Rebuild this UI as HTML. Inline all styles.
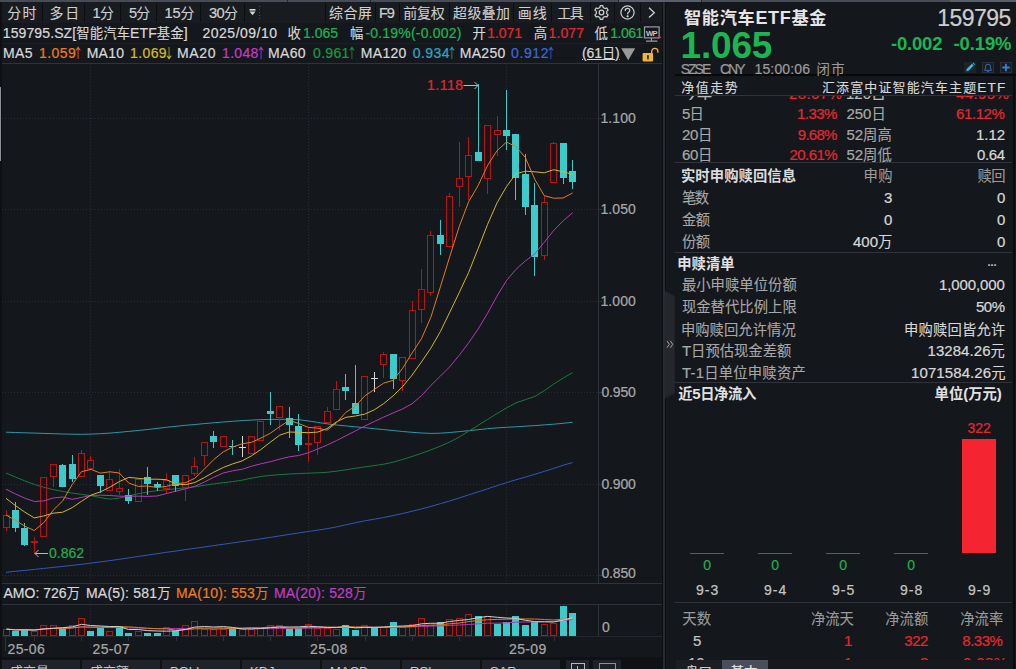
<!DOCTYPE html>
<html lang="zh-CN"><head><meta charset="utf-8"><title>159795.SZ 智能汽车ETF基金</title>
<style>
html,body{margin:0;padding:0;background:#14171c;}
body{width:1016px;height:669px;overflow:hidden;position:relative;font-family:"Liberation Sans","Noto Sans CJK SC",sans-serif;font-size:14px;color:#d8d8d8;}
#app{position:absolute;left:0;top:0;width:1016px;height:669px;overflow:hidden;background:#14171c;}
.chart{position:absolute;left:0;top:0;}
.t{position:absolute;white-space:nowrap;line-height:1;}
.r{text-align:right;}
.b{font-weight:bold;}
.red{color:#e5282f;}
.grn{color:#1cb553;}
.gry{color:#9b9b9b;}
.box{position:absolute;}
.hl{position:absolute;height:1px;background:#30343a;}
.tb{position:absolute;top:3px;height:20px;background:#1c1f25;}
.tb span{position:absolute;top:4px;line-height:13px;font-size:13px;color:#cfcfcf;white-space:nowrap;}
.tab{position:absolute;top:660px;height:9px;background:#1f2228;overflow:hidden;}
.tab span{position:absolute;top:5px;left:8px;font-size:13px;line-height:13px;color:#c8c8c8;white-space:nowrap;}
.sep{top:3px;width:1px;height:19px;background:#0c0e11;}
.c{font-size:.955em;}
.a{font-family:"Noto Sans CJK SC",sans-serif;font-size:.98em;display:inline-block;transform:scaleX(.72);margin:0 -.335em 0 -.36em;-webkit-text-stroke:0;}
.t{-webkit-text-stroke:.22px currentColor;}
.c{-webkit-text-stroke:.1px currentColor;}
.b,.b .c{-webkit-text-stroke:0;}

</style></head><body>
<div id="app">
<!-- top strip -->
<div class="box" style="left:0;top:0;width:1016px;height:2px;background:#484c57;"></div>
<div class="box" style="left:619px;top:0;width:82px;height:2px;background:#5b5f6b;"></div>
<div class="box" style="left:618px;top:0;width:1px;height:2px;background:#23262c;"></div>
<div class="box" style="left:287px;top:0;width:1px;height:2px;background:#23262c;"></div>
<div class="box" style="left:370px;top:0;width:1px;height:2px;background:#23262c;"></div>
<div class="box" style="left:701px;top:0;width:1px;height:2px;background:#23262c;"></div>
<div class="box" style="left:950px;top:0;width:66px;height:2px;background:#5a5f6c;"></div>
<!-- left edge -->
<div class="box" style="left:0;top:2px;width:2px;height:667px;background:#0e1013;"></div>
<div class="box" style="left:0;top:87px;width:1px;height:74px;background:#8e8e98;"></div>
<!-- toolbar -->
<div class="box" style="left:2px;top:2px;width:661px;height:21px;background:#181b20;"></div>
<div class="box sep" style="left:42px;"></div><div class="box sep" style="left:84px;"></div><div class="box sep" style="left:120px;"></div>
<div class="box sep" style="left:156px;"></div><div class="box sep" style="left:200px;"></div><div class="box sep" style="left:244px;"></div>
<div class="box sep" style="left:325px;"></div><div class="box sep" style="left:375px;"></div><div class="box sep" style="left:399px;"></div>
<div class="box sep" style="left:449px;"></div><div class="box sep" style="left:513px;"></div><div class="box sep" style="left:551px;"></div>
<div class="box sep" style="left:590px;"></div><div class="box sep" style="left:614px;"></div><div class="box sep" style="left:640px;"></div>
<svg class="box" style="left:245px;top:3px" width="20" height="20" viewBox="0 0 20 20">
 <rect x="4.5" y="6" width="6" height="1.6" fill="#d6d6d6"/><path d="M4.5 8.6h6l-3 3.6z" fill="#d6d6d6"/>
 <g fill="#4a4e56"><rect x="14" y="3" width="1" height="1"/><rect x="14" y="6" width="1" height="1"/><rect x="14" y="9" width="1" height="1"/><rect x="14" y="12" width="1" height="1"/><rect x="14" y="15" width="1" height="1"/></g>
</svg>
<!-- gear -->
<svg class="box" style="left:593px;top:4px" width="17" height="17" viewBox="0 0 17 17" fill="none" stroke="#cfcfcf" stroke-width="1.25" stroke-linejoin="round">
 <circle cx="8.5" cy="8.5" r="2.3"/>
 <path d="M6.86 3.46L7.26 1.61L9.74 1.61L10.14 3.46L12.05 4.56L13.85 3.98L15.09 6.13L13.68 7.40L13.68 9.60L15.09 10.87L13.85 13.02L12.05 12.44L10.14 13.54L9.74 15.39L7.26 15.39L6.86 13.54L4.95 12.44L3.15 13.02L1.91 10.87L3.32 9.60L3.32 7.40L1.91 6.13L3.15 3.98L4.95 4.56z"/>
</svg>
<!-- help -->
<svg class="box" style="left:619px;top:3.6px" width="17" height="17" viewBox="0 0 17 17" fill="none" stroke="#cfcfcf" stroke-width="1.2">
 <circle cx="8.5" cy="8.5" r="6.6"/>
 <path d="M6.2 6.6c0-1.4 1-2.2 2.3-2.2s2.3.8 2.3 2c0 1.5-2.2 1.7-2.2 3.5" stroke-linecap="round"/>
 <circle cx="8.6" cy="12.3" r=".5" fill="#cfcfcf"/>
</svg>
<!-- chevron -->
<svg class="box" style="left:645px;top:5px" width="14" height="16" viewBox="0 0 14 16" fill="none" stroke="#cfcfcf" stroke-width="1.3"><path d="M4 2.8l5.3 4.9L4 12.6"/></svg>
<!-- WP monitor icon -->
<svg class="box" style="left:643px;top:25px" width="20" height="18" viewBox="0 0 20 18">
 <rect x="1.5" y="1.9" width="14.6" height="11" fill="none" stroke="#9c9ea4" stroke-width="1.2"/>
 <path d="M3 16.1h11.4M8.5 13v3" stroke="#9c9ea4" stroke-width="1.1" fill="none"/>
 <text x="2.9" y="11" font-size="7.6" font-weight="bold" fill="#c4c4c4" font-family="Liberation Sans, sans-serif" letter-spacing="-0.6">WP</text>
 <g fill="#e5282f"><rect x="9.8" y="11.7" width="1.3" height="1.3"/><rect x="13" y="11.7" width="1.3" height="1.3"/><rect x="16.3" y="11.5" width="1.8" height="1.7"/></g>
</svg>
<!-- triangle + lock -->
<svg class="box" style="left:620px;top:45px" width="40" height="18" viewBox="0 0 40 18">
 <path d="M1.2 3.2h14L8.2 15.2z" fill="#9a9a9a"/>
 <rect x="22.6" y="7.9" width="10.5" height="8.6" rx="1" fill="#efb63a"/>
 <path d="M27 10.3h1.9l-.4 4.2h-1.1z" fill="#14171c"/>
 <path d="M31.7 8.2V6.4a3.1 3.1 0 0 1 6.2 0v1.3" fill="none" stroke="#efb63a" stroke-width="1.3"/>
</svg>
<!-- info row divider lines -->
<div class="hl" style="left:2px;top:43px;width:661px;background:#1b1e23;"></div>
<!-- right of axis / splitter -->
<div class="box" style="left:662px;top:2px;width:1px;height:667px;background:#0e1013;"></div>
<div class="box" style="left:663px;top:2px;width:2px;height:667px;background:#2a2b31;"></div>
<div class="box" style="left:665px;top:2px;width:1px;height:667px;background:#0c0d10;"></div>
<svg class="box" style="left:665px;top:290.5px" width="11" height="108" viewBox="0 0 11 108">
 <path d="M0 0L9.7 5.2V102.3L0 107.5z" fill="#26272c"/>
 <path d="M2 49.9l2.4 3.4L2 56.7M5.3 49.9l2.4 3.4-2.4 3.4" fill="none" stroke="#a4a4a4" stroke-width="1"/>
</svg>
<!-- bottom tabs -->
<div class="box" style="left:2px;top:657px;width:661px;height:12px;background:#0f1114;"></div>
<div class="tab" style="left:2px;width:78px;"><span>成交量</span></div>
<div class="tab" style="left:82px;width:78px;"><span>成交额</span></div>
<div class="tab" style="left:162px;width:78px;"><span>BOLL</span></div>
<div class="tab" style="left:242px;width:78px;"><span>KDJ</span></div>
<div class="tab" style="left:322px;width:78px;"><span>MACD</span></div>
<div class="tab" style="left:402px;width:78px;"><span>RSI</span></div>
<div class="tab" style="left:482px;width:78px;"><span>SAR</span></div>
<div class="tab" style="left:566px;width:23px;"><div style="position:absolute;left:5px;top:3px;width:12px;height:10px;border:1px solid #b8b8b8;"></div><div style="position:absolute;left:11px;top:6px;width:1px;height:6px;background:#b8b8b8;"></div></div>
<div class="tab" style="left:593px;width:28px;"><div style="position:absolute;left:6px;top:3px;width:15px;height:10px;border:1px solid #2fb6d6;"></div></div>

<svg class="chart" width="664" height="669" viewBox="0 0 664 669">
<g stroke="#282b32" stroke-width="1" stroke-dasharray="1 2" shape-rendering="crispEdges">
<line x1="2" y1="118.5" x2="598" y2="118.5"/>
<line x1="2" y1="209.5" x2="598" y2="209.5"/>
<line x1="2" y1="301.5" x2="598" y2="301.5"/>
<line x1="2" y1="392.5" x2="598" y2="392.5"/>
<line x1="2" y1="484.5" x2="598" y2="484.5"/>
<line x1="2" y1="575.5" x2="598" y2="575.5"/>
<line x1="90.5" y1="64" x2="90.5" y2="583"/>
<line x1="90.5" y1="605" x2="90.5" y2="650"/>
<line x1="308.5" y1="64" x2="308.5" y2="583"/>
<line x1="308.5" y1="605" x2="308.5" y2="650"/>
<line x1="506.5" y1="64" x2="506.5" y2="583"/>
<line x1="506.5" y1="605" x2="506.5" y2="650"/>
</g>
<g fill="#2f3238" shape-rendering="crispEdges">
<rect x="598" y="63" width="1" height="520"/><rect x="598" y="604" width="1" height="32"/>
<rect x="2" y="63" width="660" height="1"/>
<rect x="2" y="583" width="660" height="1"/>
<rect x="2" y="604" width="660" height="1"/>
<rect x="2" y="636" width="660" height="1" fill="#24272d"/>
<rect x="5" y="637" width="1" height="14"/>
<rect x="599" y="118" width="3" height="1"/>
<rect x="599" y="209" width="3" height="1"/>
<rect x="599" y="301" width="3" height="1"/>
<rect x="599" y="392" width="3" height="1"/>
<rect x="599" y="484" width="3" height="1"/>
<rect x="599" y="575" width="3" height="1"/>
<rect x="34" y="637" width="1" height="4"/>
<rect x="81" y="637" width="1" height="4"/>
<rect x="128" y="637" width="1" height="4"/>
<rect x="176" y="637" width="1" height="4"/>
<rect x="223" y="637" width="1" height="4"/>
<rect x="270" y="637" width="1" height="4"/>
<rect x="317" y="637" width="1" height="4"/>
<rect x="365" y="637" width="1" height="4"/>
<rect x="412" y="637" width="1" height="4"/>
<rect x="459" y="637" width="1" height="4"/>
<rect x="554" y="637" width="1" height="4"/>
</g>
<polyline points="6.0,572.3 15.4,571.3 24.9,570.4 34.3,569.4 43.8,568.4 53.2,567.4 62.7,566.4 72.1,565.4 81.5,564.3 91.0,563.1 100.4,561.9 109.9,560.6 119.3,559.3 128.8,557.9 138.2,556.5 147.6,555.1 157.1,553.7 166.5,552.3 176.0,551.0 185.4,549.6 194.9,548.3 204.3,547.0 213.7,545.6 223.2,544.3 232.6,542.9 242.1,541.6 251.5,540.2 260.9,538.8 270.4,537.4 279.8,535.9 289.3,534.4 298.7,532.9 308.2,531.5 317.6,530.2 327.0,528.7 336.5,526.9 345.9,524.8 355.4,522.7 364.8,520.8 374.3,519.2 383.7,517.5 393.1,515.6 402.6,513.5 412.0,511.3 421.5,508.9 430.9,506.4 440.4,503.7 449.8,500.9 459.2,498.0 468.7,494.9 478.1,491.9 487.6,488.8 497.0,485.7 506.5,482.7 515.9,479.8 525.3,477.1 534.8,474.3 544.2,471.4 553.7,468.4 563.1,465.3 572.6,462.5" fill="none" stroke="#3556b4" stroke-width="1.0" stroke-linejoin="round" opacity="1"/>
<polyline points="6.0,432.2 15.4,432.5 24.9,432.8 34.3,433.1 43.8,433.4 53.2,433.7 62.7,434.0 72.1,434.2 81.5,434.3 91.0,434.1 100.4,433.7 109.9,433.1 119.3,432.3 128.8,431.4 138.2,430.5 147.6,429.5 157.1,428.4 166.5,427.3 176.0,426.3 185.4,425.3 194.9,424.5 204.3,423.6 213.7,422.8 223.2,422.0 232.6,421.3 242.1,420.6 251.5,420.1 260.9,419.6 270.4,419.4 279.8,419.4 289.3,419.3 298.7,419.7 308.2,420.9 317.6,422.4 327.0,423.8 336.5,425.0 345.9,425.9 355.4,426.8 364.8,427.7 374.3,428.7 383.7,429.6 393.1,430.5 402.6,431.5 412.0,432.3 421.5,433.0 430.9,433.4 440.4,433.2 449.8,432.5 459.2,431.6 468.7,430.7 478.1,429.7 487.6,428.7 497.0,427.9 506.5,427.3 515.9,426.8 525.3,426.2 534.8,425.6 544.2,424.9 553.7,424.2 563.1,423.3 572.6,422.3" fill="none" stroke="#2a97a8" stroke-width="1.0" stroke-linejoin="round" opacity="1"/>
<polyline points="6.0,473.0 15.4,477.1 24.9,480.9 34.3,484.4 43.8,487.3 53.2,489.6 62.7,491.4 72.1,493.1 81.5,494.3 91.0,495.7 100.4,497.6 109.9,499.1 119.3,498.1 128.8,496.0 138.2,493.7 147.6,492.0 157.1,490.6 166.5,489.7 176.0,488.8 185.4,487.9 194.9,486.8 204.3,485.3 213.7,483.9 223.2,482.7 232.6,481.6 242.1,480.2 251.5,478.1 260.9,476.5 270.4,475.4 279.8,474.6 289.3,474.0 298.7,473.6 308.2,473.2 317.6,472.8 327.0,472.3 336.5,471.2 345.9,469.8 355.4,468.3 364.8,466.9 374.3,465.6 383.7,464.2 393.1,462.2 402.6,459.5 412.0,456.5 421.5,453.3 430.9,449.9 440.4,446.1 449.8,442.0 459.2,437.0 468.7,431.2 478.1,425.4 487.6,419.4 497.0,413.6 506.5,407.9 515.9,402.9 525.3,399.7 534.8,396.5 544.2,390.8 553.7,384.1 563.1,378.1 572.6,372.6" fill="none" stroke="#177a3c" stroke-width="1.0" stroke-linejoin="round" opacity="1"/>
<g shape-rendering="crispEdges">
<rect x="6" y="510" width="1" height="5" fill="#b81414"/>
<rect x="6" y="528" width="1" height="3" fill="#b81414"/>
<rect x="3.5" y="515.5" width="6" height="12" fill="none" stroke="#b81414" stroke-width="1"/>
<rect x="15" y="502" width="1" height="30" fill="#3ccaca"/>
<rect x="12" y="510" width="7" height="18" fill="#3ccaca"/>
<rect x="24" y="523" width="1" height="23" fill="#3ccaca"/>
<rect x="21" y="528" width="7" height="17" fill="#3ccaca"/>
<rect x="34" y="537" width="1" height="4" fill="#b81414"/>
<rect x="34" y="543" width="1" height="11" fill="#b81414"/>
<rect x="31.5" y="541.5" width="6" height="1" fill="none" stroke="#b81414" stroke-width="1"/>
<rect x="40.5" y="477.5" width="6" height="59" fill="none" stroke="#b81414" stroke-width="1"/>
<rect x="53" y="477" width="1" height="10" fill="#b81414"/>
<rect x="50.5" y="464.5" width="6" height="12" fill="none" stroke="#b81414" stroke-width="1"/>
<rect x="62" y="464" width="1" height="23" fill="#3ccaca"/>
<rect x="59" y="465" width="7" height="22" fill="#3ccaca"/>
<rect x="72" y="455" width="1" height="27" fill="#3ccaca"/>
<rect x="69" y="464" width="7" height="15" fill="#3ccaca"/>
<rect x="81" y="450" width="1" height="3" fill="#b81414"/>
<rect x="78.5" y="453.5" width="6" height="23" fill="none" stroke="#b81414" stroke-width="1"/>
<rect x="90" y="456" width="1" height="4" fill="#b81414"/>
<rect x="87.5" y="460.5" width="6" height="8" fill="none" stroke="#b81414" stroke-width="1"/>
<rect x="100" y="475" width="1" height="18" fill="#3ccaca"/>
<rect x="97" y="475" width="7" height="11" fill="#3ccaca"/>
<rect x="109" y="471" width="1" height="8" fill="#b81414"/>
<rect x="106.5" y="479.5" width="6" height="11" fill="none" stroke="#b81414" stroke-width="1"/>
<rect x="119" y="469" width="1" height="19" fill="#b81414"/>
<rect x="119" y="492" width="1" height="3" fill="#b81414"/>
<rect x="116.5" y="488.5" width="6" height="3" fill="none" stroke="#b81414" stroke-width="1"/>
<rect x="128" y="489" width="1" height="15" fill="#3ccaca"/>
<rect x="125" y="495" width="7" height="6" fill="#3ccaca"/>
<rect x="135.5" y="479.5" width="6" height="22" fill="none" stroke="#b81414" stroke-width="1"/>
<rect x="147" y="467" width="1" height="28" fill="#3ccaca"/>
<rect x="144" y="477" width="7" height="7" fill="#3ccaca"/>
<rect x="157" y="482" width="1" height="9" fill="#3ccaca"/>
<rect x="154" y="484" width="7" height="3" fill="#3ccaca"/>
<rect x="166" y="473" width="1" height="7" fill="#b81414"/>
<rect x="166" y="489" width="1" height="5" fill="#b81414"/>
<rect x="163.5" y="480.5" width="6" height="8" fill="none" stroke="#b81414" stroke-width="1"/>
<rect x="175" y="475" width="1" height="17" fill="#3ccaca"/>
<rect x="172" y="475" width="7" height="11" fill="#3ccaca"/>
<rect x="185" y="488" width="1" height="13" fill="#b81414"/>
<rect x="182.5" y="475.5" width="6" height="12" fill="none" stroke="#b81414" stroke-width="1"/>
<rect x="194" y="457" width="1" height="9" fill="#b81414"/>
<rect x="194" y="474" width="1" height="2" fill="#b81414"/>
<rect x="191.5" y="466.5" width="6" height="7" fill="none" stroke="#b81414" stroke-width="1"/>
<rect x="204" y="456" width="1" height="10" fill="#b81414"/>
<rect x="201.5" y="442.5" width="6" height="13" fill="none" stroke="#b81414" stroke-width="1"/>
<rect x="213" y="431" width="1" height="17" fill="#3ccaca"/>
<rect x="210" y="436" width="7" height="6" fill="#3ccaca"/>
<rect x="220.5" y="436.5" width="6" height="10" fill="none" stroke="#b81414" stroke-width="1"/>
<rect x="232" y="440" width="1" height="15" fill="#3ccaca"/>
<rect x="229" y="446" width="7" height="1" fill="#3ccaca"/>
<rect x="242" y="436" width="1" height="21" fill="#d8d8d8"/>
<rect x="239" y="447" width="7" height="1" fill="#d8d8d8"/>
<rect x="248.5" y="436.5" width="6" height="17" fill="none" stroke="#b81414" stroke-width="1"/>
<rect x="257.5" y="421.5" width="6" height="19" fill="none" stroke="#b81414" stroke-width="1"/>
<rect x="270" y="392" width="1" height="33" fill="#3ccaca"/>
<rect x="267" y="411" width="7" height="3" fill="#3ccaca"/>
<rect x="279" y="418" width="1" height="12" fill="#b81414"/>
<rect x="276.5" y="406.5" width="6" height="11" fill="none" stroke="#b81414" stroke-width="1"/>
<rect x="289" y="407" width="1" height="31" fill="#3ccaca"/>
<rect x="286" y="418" width="7" height="7" fill="#3ccaca"/>
<rect x="298" y="414" width="1" height="37" fill="#3ccaca"/>
<rect x="295" y="426" width="7" height="19" fill="#3ccaca"/>
<rect x="308" y="428" width="1" height="15" fill="#b81414"/>
<rect x="308" y="445" width="1" height="17" fill="#b81414"/>
<rect x="305.5" y="443.5" width="6" height="1" fill="none" stroke="#b81414" stroke-width="1"/>
<rect x="317" y="443" width="1" height="12" fill="#b81414"/>
<rect x="314.5" y="426.5" width="6" height="16" fill="none" stroke="#b81414" stroke-width="1"/>
<rect x="327" y="407" width="1" height="4" fill="#b81414"/>
<rect x="324.5" y="411.5" width="6" height="11" fill="none" stroke="#b81414" stroke-width="1"/>
<rect x="336" y="381" width="1" height="8" fill="#b81414"/>
<rect x="333.5" y="389.5" width="6" height="20" fill="none" stroke="#b81414" stroke-width="1"/>
<rect x="345" y="374" width="1" height="26" fill="#3ccaca"/>
<rect x="342" y="387" width="7" height="4" fill="#3ccaca"/>
<rect x="355" y="365" width="1" height="49" fill="#3ccaca"/>
<rect x="352" y="403" width="7" height="11" fill="#3ccaca"/>
<rect x="361.5" y="376.5" width="6" height="43" fill="none" stroke="#b81414" stroke-width="1"/>
<rect x="374" y="372" width="1" height="20" fill="#d8d8d8"/>
<rect x="371" y="378" width="7" height="1" fill="#d8d8d8"/>
<rect x="383" y="352" width="1" height="2" fill="#b81414"/>
<rect x="383" y="365" width="1" height="13" fill="#b81414"/>
<rect x="380.5" y="354.5" width="6" height="10" fill="none" stroke="#b81414" stroke-width="1"/>
<rect x="393" y="354" width="1" height="35" fill="#3ccaca"/>
<rect x="390" y="354" width="7" height="25" fill="#3ccaca"/>
<rect x="402" y="381" width="1" height="10" fill="#b81414"/>
<rect x="399.5" y="357.5" width="6" height="23" fill="none" stroke="#b81414" stroke-width="1"/>
<rect x="412" y="301" width="1" height="9" fill="#b81414"/>
<rect x="409.5" y="310.5" width="6" height="48" fill="none" stroke="#b81414" stroke-width="1"/>
<rect x="421" y="269" width="1" height="20" fill="#b81414"/>
<rect x="421" y="310" width="1" height="13" fill="#b81414"/>
<rect x="418.5" y="289.5" width="6" height="20" fill="none" stroke="#b81414" stroke-width="1"/>
<rect x="430" y="231" width="1" height="4" fill="#b81414"/>
<rect x="430" y="293" width="1" height="3" fill="#b81414"/>
<rect x="427.5" y="235.5" width="6" height="57" fill="none" stroke="#b81414" stroke-width="1"/>
<rect x="440" y="220" width="1" height="35" fill="#3ccaca"/>
<rect x="437" y="235" width="7" height="9" fill="#3ccaca"/>
<rect x="449" y="193" width="1" height="3" fill="#b81414"/>
<rect x="446.5" y="196.5" width="6" height="50" fill="none" stroke="#b81414" stroke-width="1"/>
<rect x="459" y="142" width="1" height="36" fill="#b81414"/>
<rect x="459" y="187" width="1" height="20" fill="#b81414"/>
<rect x="456.5" y="178.5" width="6" height="8" fill="none" stroke="#b81414" stroke-width="1"/>
<rect x="468" y="137" width="1" height="18" fill="#b81414"/>
<rect x="468" y="177" width="1" height="23" fill="#b81414"/>
<rect x="465.5" y="155.5" width="6" height="21" fill="none" stroke="#b81414" stroke-width="1"/>
<rect x="478" y="84" width="1" height="77" fill="#3ccaca"/>
<rect x="475" y="152" width="7" height="9" fill="#3ccaca"/>
<rect x="487" y="179" width="1" height="15" fill="#b81414"/>
<rect x="484.5" y="125.5" width="6" height="53" fill="none" stroke="#b81414" stroke-width="1"/>
<rect x="497" y="116" width="1" height="14" fill="#b81414"/>
<rect x="497" y="135" width="1" height="21" fill="#b81414"/>
<rect x="494.5" y="130.5" width="6" height="4" fill="none" stroke="#b81414" stroke-width="1"/>
<rect x="506" y="90" width="1" height="60" fill="#3ccaca"/>
<rect x="503" y="130" width="7" height="6" fill="#3ccaca"/>
<rect x="515" y="134" width="1" height="66" fill="#3ccaca"/>
<rect x="512" y="134" width="7" height="44" fill="#3ccaca"/>
<rect x="525" y="154" width="1" height="61" fill="#3ccaca"/>
<rect x="522" y="174" width="7" height="33" fill="#3ccaca"/>
<rect x="534" y="183" width="1" height="93" fill="#3ccaca"/>
<rect x="531" y="205" width="7" height="52" fill="#3ccaca"/>
<rect x="544" y="196" width="1" height="6" fill="#b81414"/>
<rect x="544" y="256" width="1" height="4" fill="#b81414"/>
<rect x="541.5" y="202.5" width="6" height="53" fill="none" stroke="#b81414" stroke-width="1"/>
<rect x="553" y="142" width="1" height="1" fill="#b81414"/>
<rect x="550.5" y="143.5" width="6" height="39" fill="none" stroke="#b81414" stroke-width="1"/>
<rect x="563" y="143" width="1" height="41" fill="#3ccaca"/>
<rect x="560" y="143" width="7" height="35" fill="#3ccaca"/>
<rect x="572" y="160" width="1" height="29" fill="#3ccaca"/>
<rect x="569" y="171" width="7" height="11" fill="#3ccaca"/>
</g>
<polyline points="6.0,489.2 15.4,493.9 24.9,498.2 34.3,501.5 43.8,500.9 53.2,498.0 62.7,497.0 72.1,499.3 81.5,497.4 91.0,495.4 100.4,495.2 109.9,495.5 119.3,496.2 128.8,496.2 138.2,496.2 147.6,496.4 157.1,496.0 166.5,493.5 176.0,491.1 185.4,488.8 194.9,486.3 204.3,482.1 213.7,477.3 223.2,473.0 232.6,470.8 242.1,469.3 251.5,466.2 260.9,463.8 270.4,461.7 279.8,459.1 289.3,456.8 298.7,455.5 308.2,452.8 317.6,449.0 327.0,445.1 336.5,440.6 345.9,435.8 355.4,430.9 364.8,426.1 374.3,421.5 383.7,417.1 393.1,413.0 402.6,408.9 412.0,403.8 421.5,395.6 430.9,385.4 440.4,376.1 449.8,366.7 459.2,355.3 468.7,342.8 478.1,329.1 487.6,313.2 497.0,296.1 506.5,280.5 515.9,269.4 525.3,261.0 534.8,253.9 544.2,242.3 553.7,230.5 563.1,220.8 572.6,212.8" fill="none" stroke="#b23ab6" stroke-width="1.0" stroke-linejoin="round" opacity="1"/>
<polyline points="6.0,498.3 15.4,505.6 24.9,512.2 34.3,517.9 43.8,515.9 53.2,513.2 62.7,512.2 72.1,507.7 81.5,501.3 91.0,495.1 100.4,491.9 109.9,487.1 119.3,481.6 128.8,477.4 138.2,478.3 147.6,479.2 157.1,479.2 166.5,479.7 176.0,484.0 185.4,484.7 194.9,482.5 204.3,477.6 213.7,472.2 223.2,467.5 232.6,463.9 242.1,460.9 251.5,455.8 260.9,449.5 270.4,442.1 279.8,435.1 289.3,432.0 298.7,432.3 308.2,432.7 317.6,432.1 327.0,428.6 336.5,421.9 345.9,417.3 355.4,416.0 364.8,414.1 374.3,409.8 383.7,403.6 393.1,395.8 402.6,386.6 412.0,375.2 421.5,361.8 430.9,348.1 440.4,331.5 449.8,312.1 459.2,292.7 468.7,272.3 478.1,248.7 487.6,224.3 497.0,202.9 506.5,186.6 515.9,173.8 525.3,171.2 534.8,171.8 544.2,172.8 553.7,169.7 563.1,171.8 572.6,174.3" fill="none" stroke="#d2b62c" stroke-width="1.0" stroke-linejoin="round" opacity="1"/>
<polyline points="6.0,515.0 15.4,520.3 24.9,526.2 34.3,530.5 43.8,522.6 53.2,510.2 62.7,500.9 72.1,484.7 81.5,471.7 91.0,469.4 100.4,473.1 109.9,471.8 119.3,473.0 128.8,483.1 138.2,486.4 147.6,486.0 157.1,487.6 166.5,486.3 176.0,483.6 185.4,482.8 194.9,478.2 204.3,469.2 213.7,459.6 223.2,451.9 232.6,447.1 242.1,443.8 251.5,442.3 260.9,438.1 270.4,433.2 279.8,426.5 289.3,420.3 298.7,423.5 308.2,427.3 317.6,428.2 327.0,430.2 336.5,422.8 345.9,412.3 355.4,406.2 364.8,395.9 374.3,389.4 383.7,383.1 393.1,380.4 402.6,368.3 412.0,353.1 421.5,338.6 430.9,317.2 440.4,286.8 449.8,256.4 459.2,226.7 468.7,201.6 478.1,185.6 487.6,165.4 497.0,150.7 506.5,142.1 515.9,146.6 525.3,157.5 534.8,179.3 544.2,195.6 553.7,198.2 563.1,198.0 572.6,193.0" fill="none" stroke="#e27d1c" stroke-width="1.0" stroke-linejoin="round" opacity="1"/>
<g stroke="#b8b8b8" stroke-width="1" fill="none">
<path d="M463.5 85.5H478 M474.5 82L478 85.5L474.5 89"/>
<path d="M48 553.5H35 M38.5 550L35 553.5L38.5 557"/>
</g>
<g shape-rendering="crispEdges">
<rect x="3.5" y="629.5" width="6" height="6" fill="none" stroke="#b81414" stroke-width="1"/>
<rect x="12" y="631" width="7" height="5" fill="#3ccaca"/>
<rect x="21" y="630" width="7" height="6" fill="#3ccaca"/>
<rect x="31.5" y="631.5" width="6" height="4" fill="none" stroke="#b81414" stroke-width="1"/>
<rect x="40.5" y="625.5" width="6" height="10" fill="none" stroke="#b81414" stroke-width="1"/>
<rect x="50.5" y="625.5" width="6" height="10" fill="none" stroke="#b81414" stroke-width="1"/>
<rect x="59" y="628" width="7" height="8" fill="#3ccaca"/>
<rect x="69.5" y="625.5" width="6" height="10" fill="none" stroke="#b81414" stroke-width="1"/>
<rect x="78.5" y="618.5" width="6" height="17" fill="none" stroke="#b81414" stroke-width="1"/>
<rect x="87" y="631" width="7" height="5" fill="#3ccaca"/>
<rect x="97" y="628" width="7" height="8" fill="#3ccaca"/>
<rect x="106.5" y="631.5" width="6" height="4" fill="none" stroke="#b81414" stroke-width="1"/>
<rect x="116" y="626" width="7" height="10" fill="#3ccaca"/>
<rect x="125" y="633" width="7" height="3" fill="#3ccaca"/>
<rect x="135.5" y="631.5" width="6" height="4" fill="none" stroke="#b81414" stroke-width="1"/>
<rect x="144" y="633" width="7" height="3" fill="#3ccaca"/>
<rect x="154" y="633" width="7" height="3" fill="#3ccaca"/>
<rect x="163.5" y="627.5" width="6" height="8" fill="none" stroke="#b81414" stroke-width="1"/>
<rect x="172" y="631" width="7" height="5" fill="#3ccaca"/>
<rect x="182.5" y="625.5" width="6" height="10" fill="none" stroke="#b81414" stroke-width="1"/>
<rect x="191.5" y="621.5" width="6" height="14" fill="none" stroke="#b81414" stroke-width="1"/>
<rect x="201.5" y="629.5" width="6" height="6" fill="none" stroke="#b81414" stroke-width="1"/>
<rect x="210.5" y="629.5" width="6" height="6" fill="none" stroke="#b81414" stroke-width="1"/>
<rect x="220.5" y="629.5" width="6" height="6" fill="none" stroke="#b81414" stroke-width="1"/>
<rect x="229" y="629" width="7" height="7" fill="#3ccaca"/>
<rect x="239.5" y="629.5" width="6" height="6" fill="none" stroke="#b81414" stroke-width="1"/>
<rect x="248.5" y="629.5" width="6" height="6" fill="none" stroke="#b81414" stroke-width="1"/>
<rect x="257.5" y="628.5" width="6" height="7" fill="none" stroke="#b81414" stroke-width="1"/>
<rect x="267.5" y="625.5" width="6" height="10" fill="none" stroke="#b81414" stroke-width="1"/>
<rect x="276.5" y="625.5" width="6" height="10" fill="none" stroke="#b81414" stroke-width="1"/>
<rect x="286" y="629" width="7" height="7" fill="#3ccaca"/>
<rect x="295" y="628" width="7" height="8" fill="#3ccaca"/>
<rect x="305.5" y="624.5" width="6" height="11" fill="none" stroke="#b81414" stroke-width="1"/>
<rect x="314.5" y="628.5" width="6" height="7" fill="none" stroke="#b81414" stroke-width="1"/>
<rect x="324.5" y="628.5" width="6" height="7" fill="none" stroke="#b81414" stroke-width="1"/>
<rect x="333.5" y="629.5" width="6" height="6" fill="none" stroke="#b81414" stroke-width="1"/>
<rect x="342" y="625" width="7" height="11" fill="#3ccaca"/>
<rect x="352" y="630" width="7" height="6" fill="#3ccaca"/>
<rect x="361.5" y="625.5" width="6" height="10" fill="none" stroke="#b81414" stroke-width="1"/>
<rect x="371" y="628" width="7" height="8" fill="#3ccaca"/>
<rect x="380.5" y="627.5" width="6" height="8" fill="none" stroke="#b81414" stroke-width="1"/>
<rect x="390" y="622" width="7" height="14" fill="#3ccaca"/>
<rect x="399.5" y="627.5" width="6" height="8" fill="none" stroke="#b81414" stroke-width="1"/>
<rect x="409.5" y="624.5" width="6" height="11" fill="none" stroke="#b81414" stroke-width="1"/>
<rect x="418.5" y="618.5" width="6" height="17" fill="none" stroke="#b81414" stroke-width="1"/>
<rect x="427.5" y="625.5" width="6" height="10" fill="none" stroke="#b81414" stroke-width="1"/>
<rect x="437" y="622" width="7" height="14" fill="#3ccaca"/>
<rect x="446.5" y="619.5" width="6" height="16" fill="none" stroke="#b81414" stroke-width="1"/>
<rect x="456.5" y="618.5" width="6" height="17" fill="none" stroke="#b81414" stroke-width="1"/>
<rect x="465.5" y="614.5" width="6" height="21" fill="none" stroke="#b81414" stroke-width="1"/>
<rect x="475" y="616" width="7" height="20" fill="#3ccaca"/>
<rect x="484.5" y="616.5" width="6" height="19" fill="none" stroke="#b81414" stroke-width="1"/>
<rect x="494" y="624" width="7" height="12" fill="#3ccaca"/>
<rect x="503" y="622" width="7" height="14" fill="#3ccaca"/>
<rect x="512" y="616" width="7" height="20" fill="#3ccaca"/>
<rect x="522" y="625" width="7" height="11" fill="#3ccaca"/>
<rect x="531" y="622" width="7" height="14" fill="#3ccaca"/>
<rect x="541.5" y="624.5" width="6" height="11" fill="none" stroke="#b81414" stroke-width="1"/>
<rect x="550.5" y="623.5" width="6" height="12" fill="none" stroke="#b81414" stroke-width="1"/>
<rect x="560" y="606" width="7" height="30" fill="#3ccaca"/>
<rect x="569" y="613" width="7" height="23" fill="#3ccaca"/>
</g>
<polyline points="6.5,629.1 15.5,629.9 24.5,629.8 34.5,630.0 43.5,629.0 53.5,628.4 62.5,628.4 72.5,627.9 81.5,626.9 90.5,627.2 100.5,627.3 109.5,627.6 119.5,627.4 128.5,627.8 138.5,628.0 147.5,628.3 157.5,628.6 166.5,628.5 175.5,628.6 185.5,628.4 194.5,628.0 204.5,627.9 213.5,627.9 223.5,627.8 232.5,628.0 242.5,628.2 251.5,628.2 260.5,628.3 270.5,628.7 279.5,628.4 289.5,628.4 298.5,628.3 308.5,628.2 317.5,628.0 327.5,627.8 336.5,627.6 345.5,627.3 355.5,627.4 364.5,627.1 374.5,627.3 383.5,627.6 393.5,627.2 402.5,627.2 412.5,626.9 421.5,626.4 430.5,626.2 440.5,625.8 449.5,625.4 459.5,625.0 468.5,624.5 478.5,623.8 487.5,623.2 497.5,623.2 506.5,622.9 515.5,622.2 525.5,622.0 534.5,621.9 544.5,621.6 553.5,621.5 563.5,620.4 572.5,619.7" fill="none" stroke="#b23ab6" stroke-width="1" stroke-linejoin="round" opacity="1"/>
<polyline points="6.5,629.1 15.5,629.9 24.5,629.8 34.5,630.0 43.5,629.0 53.5,628.4 62.5,628.4 72.5,627.9 81.5,626.9 90.5,627.2 100.5,627.1 109.5,627.1 119.5,626.7 128.5,626.9 138.5,627.5 147.5,628.3 157.5,628.7 166.5,628.9 175.5,630.1 185.5,629.5 194.5,628.9 204.5,628.7 213.5,629.1 223.5,628.7 232.5,628.5 242.5,628.1 251.5,627.7 260.5,627.8 270.5,627.2 279.5,627.2 289.5,628.0 298.5,627.9 308.5,627.4 317.5,627.2 327.5,627.2 336.5,627.2 345.5,626.8 355.5,627.0 364.5,627.1 374.5,627.4 383.5,627.2 393.5,626.6 402.5,626.9 412.5,626.5 421.5,625.5 430.5,625.2 440.5,624.8 449.5,623.8 459.5,623.0 468.5,621.6 478.5,620.4 487.5,619.8 497.5,619.4 506.5,619.2 515.5,618.9 525.5,618.9 534.5,619.0 544.5,619.5 553.5,620.0 563.5,619.2 572.5,619.0" fill="none" stroke="#e27d1c" stroke-width="1" stroke-linejoin="round" opacity="1"/>
<polyline points="6.5,629.1 15.5,629.9 24.5,629.8 34.5,630.0 43.5,629.0 53.5,628.2 62.5,627.7 72.5,626.8 81.5,624.3 90.5,625.5 100.5,626.0 109.5,626.5 119.5,626.7 128.5,629.5 138.5,629.5 147.5,630.6 157.5,631.0 166.5,631.2 175.5,630.8 185.5,629.6 194.5,627.1 204.5,626.5 213.5,627.0 223.5,626.6 232.5,627.4 242.5,629.0 251.5,628.9 260.5,628.6 270.5,627.7 279.5,626.9 289.5,627.0 298.5,626.9 308.5,626.2 317.5,626.7 327.5,627.4 336.5,627.4 345.5,626.7 355.5,627.9 364.5,627.4 374.5,627.3 383.5,627.0 393.5,626.4 402.5,626.0 412.5,625.6 421.5,623.8 430.5,623.3 440.5,623.2 449.5,621.5 459.5,620.4 468.5,619.5 478.5,617.6 487.5,616.4 497.5,617.3 506.5,618.0 515.5,618.4 525.5,620.3 534.5,621.6 544.5,621.8 553.5,622.0 563.5,620.1 572.5,617.7" fill="none" stroke="#d0d0d0" stroke-width="1" stroke-linejoin="round" opacity="1"/>
</svg>
<div class="t" style="left:7.30px;top:5.70px;font-size:14.6px;letter-spacing:1.200px;color:#cfcfcf"><span class="c">分时</span></div>
<div class="t" style="left:49.50px;top:5.70px;font-size:14.6px;letter-spacing:1.900px;color:#cfcfcf"><span class="c">多日</span></div>
<div class="t" style="left:92.40px;top:5.70px;font-size:14.6px;letter-spacing:-0.500px;color:#cfcfcf">1<span class="c">分</span></div>
<div class="t" style="left:129.00px;top:5.70px;font-size:14.6px;letter-spacing:-0.900px;color:#cfcfcf">5<span class="c">分</span></div>
<div class="t" style="left:164.40px;top:5.70px;font-size:14.6px;letter-spacing:-0.100px;color:#cfcfcf">15<span class="c">分</span></div>
<div class="t" style="left:208.90px;top:5.70px;font-size:14.6px;letter-spacing:-0.600px;color:#cfcfcf">30<span class="c">分</span></div>
<div class="t" style="left:329.00px;top:5.70px;font-size:14.6px;letter-spacing:0.600px;color:#cfcfcf"><span class="c">综合屏</span></div>
<div class="t" style="left:379.10px;top:5.70px;font-size:14.6px;letter-spacing:-1.200px;color:#cfcfcf">F9</div>
<div class="t" style="left:403.20px;top:5.70px;font-size:14.6px;letter-spacing:-0.200px;color:#cfcfcf"><span class="c">前复权</span></div>
<div class="t" style="left:453.10px;top:5.70px;font-size:14.6px;letter-spacing:0.367px;color:#cfcfcf"><span class="c">超级叠加</span></div>
<div class="t" style="left:517.80px;top:5.70px;font-size:14.6px;letter-spacing:1.100px;color:#cfcfcf"><span class="c">画线</span></div>
<div class="t" style="left:557.20px;top:5.70px;font-size:14.6px;letter-spacing:-1.400px;color:#cfcfcf"><span class="c">工具</span></div>
<div class="t" style="left:2.80px;top:26.00px;letter-spacing:0.105px;">159795.SZ[<span class="c">智能汽车</span>ETF<span class="c">基金</span>]</div>
<div class="t" style="left:202.50px;top:26.00px;letter-spacing:0.500px;">2025/09/10</div>
<div class="t" style="left:287.50px;top:26.00px;"><span class="c">收</span></div>
<div class="t grn" style="left:303.00px;top:26.00px;">1.065</div>
<div class="t" style="left:350.00px;top:26.00px;"><span class="c">幅</span></div>
<div class="t grn" style="left:365.40px;top:26.00px;letter-spacing:0.200px;">-0.19%(-0.002)</div>
<div class="t" style="left:472.40px;top:26.00px;"><span class="c">开</span></div>
<div class="t red" style="left:487.30px;top:26.00px;letter-spacing:-0.075px;">1.071</div>
<div class="t" style="left:533.70px;top:26.00px;"><span class="c">高</span></div>
<div class="t red" style="left:548.60px;top:26.00px;letter-spacing:0.100px;">1.077</div>
<div class="t" style="left:594.60px;top:26.00px;"><span class="c">低</span></div>
<div class="t grn" style="left:610.30px;top:26.00px;letter-spacing:-0.500px;">1.061</div>
<div class="t" style="left:3.00px;top:46.00px;letter-spacing:0.400px;">MA5</div>
<div class="t" style="left:39.00px;top:46.00px;letter-spacing:0.460px;color:#ee7d1a">1.059<span class="a">↑</span></div>
<div class="t" style="left:86.70px;top:46.00px;letter-spacing:0.267px;">MA10</div>
<div class="t" style="left:130.00px;top:46.00px;letter-spacing:0.400px;color:#d6be22">1.069<span class="a">↓</span></div>
<div class="t" style="left:177.00px;top:46.00px;letter-spacing:0.667px;">MA20</div>
<div class="t" style="left:222.00px;top:46.00px;letter-spacing:0.340px;color:#c23cc6">1.048<span class="a">↑</span></div>
<div class="t" style="left:268.00px;top:46.00px;letter-spacing:0.333px;">MA60</div>
<div class="t" style="left:313.00px;top:46.00px;letter-spacing:0.340px;color:#1d9a45">0.961<span class="a">↑</span></div>
<div class="t" style="left:360.80px;top:46.00px;letter-spacing:0.300px;">MA120</div>
<div class="t" style="left:412.80px;top:46.00px;letter-spacing:0.440px;color:#2ea7c2">0.934<span class="a">↑</span></div>
<div class="t" style="left:459.70px;top:46.00px;letter-spacing:0.325px;">MA250</div>
<div class="t" style="left:511.00px;top:46.00px;letter-spacing:0.600px;color:#3f67d6">0.912<span class="a">↑</span></div>
<div class="t" style="left:582.00px;top:46.00px;letter-spacing:-0.150px;"><u>(61<span class="c">日</span>)</u></div>
<div class="t" style="left:600.50px;top:111.00px;letter-spacing:0.075px;color:#a8a8a8">1.100</div>
<div class="t" style="left:600.50px;top:202.00px;letter-spacing:0.075px;color:#a8a8a8">1.050</div>
<div class="t" style="left:600.50px;top:294.00px;letter-spacing:0.075px;color:#a8a8a8">1.000</div>
<div class="t" style="left:601.50px;top:385.00px;letter-spacing:-0.175px;color:#a8a8a8">0.950</div>
<div class="t" style="left:601.50px;top:477.00px;letter-spacing:-0.175px;color:#a8a8a8">0.900</div>
<div class="t" style="left:601.50px;top:566.00px;letter-spacing:-0.175px;color:#a8a8a8">0.850</div>
<div class="t" style="left:602.00px;top:620.00px;color:#a8a8a8">0</div>
<div class="t red" style="left:427.00px;top:78.00px;letter-spacing:0.500px;">1.118</div>
<div class="t" style="left:49.00px;top:546.00px;color:#1fae4e">0.862</div>
<div class="t" style="left:3.50px;top:586.00px;">AMO: 726<span class="c">万</span></div>
<div class="t" style="left:86.00px;top:586.00px;letter-spacing:0.200px;">MA(5): 581<span class="c">万</span></div>
<div class="t" style="left:176.00px;top:586.00px;letter-spacing:0.182px;color:#ee7d1a">MA(10): 553<span class="c">万</span></div>
<div class="t" style="left:274.00px;top:586.00px;letter-spacing:0.182px;color:#c23cc6">MA(20): 528<span class="c">万</span></div>
<div class="t" style="left:7.50px;top:642.00px;letter-spacing:0.375px;color:#a8a8a8">25-06</div>
<div class="t" style="left:92.50px;top:642.00px;letter-spacing:0.375px;color:#a8a8a8">25-07</div>
<div class="t" style="left:310.00px;top:642.00px;letter-spacing:0.375px;color:#a8a8a8">25-08</div>
<div class="t" style="left:509.00px;top:642.00px;letter-spacing:0.375px;color:#a8a8a8">25-09</div>
<!-- right panel -->
<div class="box" style="left:675px;top:74px;width:341px;height:2px;background:#07080a;"></div>
<div class="box" style="left:1013px;top:76px;width:2px;height:593px;background:#0a0b0e;"></div>
<div class="hl" style="left:675px;top:95px;width:337px;"></div>
<div class="hl" style="left:675px;top:162px;width:337px;"></div>
<div class="hl" style="left:675px;top:252px;width:337px;"></div>
<div class="hl" style="left:675px;top:382px;width:337px;"></div>
<div class="hl" style="left:675px;top:602px;width:337px;"></div>
<!-- icon buttons -->
<div class="box" style="left:964px;top:62px;width:12px;height:11px;background:#1f2227;"></div>
<svg class="box" style="left:964px;top:62px" width="12" height="11" viewBox="0 0 12 11"><path d="M2.2 9.2l.5-2.3 5.2-5.2 1.8 1.8-5.2 5.2z" fill="#2fc0da"/><path d="M8.5 1.1l.7-.6 1.8 1.8-.7.6z" fill="#2fc0da"/></svg>
<div class="box" style="left:982px;top:62px;width:10px;height:9px;border:1px solid #2c3036;background:#1a1d22;"></div>
<svg class="box" style="left:982px;top:62px" width="12" height="11" viewBox="0 0 12 11" fill="none" stroke="#2f6fc2" stroke-width="1"><path d="M2.3 8.3h7.4c-1-.9-1.2-1.8-1.2-3.6a2.5 2.5 0 0 0-5 0c0 1.8-.2 2.7-1.2 3.6z"/><path d="M5 9.6h2"/></svg>
<div class="box" style="left:1000px;top:62px;width:10px;height:9px;border:1px solid #2c3036;background:#1a1d22;"></div>
<svg class="box" style="left:1000px;top:62px" width="12" height="11" viewBox="0 0 12 11"><path d="M6 1.8v7.4M2.3 5.5h7.4" stroke="#3b7bdc" stroke-width="1.8" fill="none"/></svg>
<!-- clipped partial row under header -->
<div class="box" style="left:675px;top:96px;width:337px;height:4px;overflow:hidden;">
 <div class="t" style="left:7px;top:-10px;font-size:15px;color:#bdbdbd;">今年</div>
 <div class="t red" style="left:114px;top:-10px;font-size:15px;letter-spacing:.4px;">28.67%</div>
 <div class="t" style="left:171px;top:-10px;font-size:15px;color:#bdbdbd;">120日</div>
 <div class="t red" style="left:281px;top:-10px;font-size:15px;letter-spacing:.4px;">44.95%</div>
</div>
<!-- net inflow bar chart -->
<div class="box" style="left:690px;top:553px;width:34px;height:1px;background:#15883b;"></div>
<div class="box" style="left:758px;top:553px;width:34px;height:1px;background:#15883b;"></div>
<div class="box" style="left:826px;top:553px;width:34px;height:1px;background:#15883b;"></div>
<div class="box" style="left:894px;top:553px;width:34px;height:1px;background:#15883b;"></div>
<div class="box" style="left:962px;top:439px;width:34px;height:114px;background:#f52431;"></div>
<!-- partially visible next row + bottom tabs -->
<div class="box" style="left:675px;top:650px;width:337px;height:10px;overflow:hidden;">
 <div class="t" style="left:13px;top:5px;font-size:15px;color:#c4c4c4;">10</div>
 <div class="t red" style="left:169px;top:5px;font-size:15px;">1</div>
 <div class="t red" style="left:245px;top:5px;font-size:15px;">3</div>
 <div class="t red" style="left:288px;top:5px;font-size:15px;letter-spacing:.4px;">0.08%</div>
</div>
<div class="box" style="left:675px;top:660px;width:338px;height:9px;background:#16181d;overflow:hidden;">
 <div class="box" style="left:1px;top:0;width:46px;height:9px;background:#1c1e24;"></div>
 <div class="box" style="left:47px;top:0;width:46px;height:9px;background:#4a4d5a;"></div>
 <div class="t" style="left:10px;top:6px;font-size:13.5px;color:#c8c8c8;">盘口</div>
 <div class="t" style="left:55.5px;top:6px;font-size:13.5px;color:#e6e6e6;">基本</div>
</div>

<div class="t b" style="left:684.00px;top:9.00px;font-size:18px;letter-spacing:0.663px;color:#e6e6e6"><span class="c">智能汽车</span>ETF<span class="c">基金</span></div>
<div class="t" style="left:937.20px;top:6.50px;font-size:23px;letter-spacing:-0.520px;color:#cdcdcd">159795</div>
<div class="t b grn" style="left:680.60px;top:27.00px;font-size:37px;letter-spacing:-0.200px;">1.065</div>
<div class="t b grn" style="left:891.00px;top:35.25px;font-size:18.5px;letter-spacing:-0.200px;">-0.002</div>
<div class="t b grn" style="left:953.50px;top:35.25px;font-size:18.5px;letter-spacing:-0.120px;">-0.19%</div>
<div class="t gry" style="left:680.70px;top:62.00px;letter-spacing:-2.000px;">SZSE</div>
<div class="t gry" style="left:720.00px;top:62.00px;letter-spacing:-2.000px;">CNY</div>
<div class="t gry" style="left:754.50px;top:62.00px;letter-spacing:0.143px;">15:00:06</div>
<div class="t gry" style="left:816.50px;top:62.00px;letter-spacing:1.500px;"><span class="c">闭市</span></div>
<div class="t" style="left:681.30px;top:80.70px;font-size:13.6px;letter-spacing:1.500px;"><span class="c">净值走势</span></div>
<div class="t" style="left:822.00px;top:80.70px;font-size:13.6px;letter-spacing:1.154px;"><span class="c">汇添富中证智能汽车主题</span>ETF</div>
<div class="t" style="left:681.90px;top:106.00px;font-size:15px;letter-spacing:-0.700px;color:#a8a8a8">5<span class="c">日</span></div>
<div class="t red" style="left:797.10px;top:106.00px;font-size:15px;letter-spacing:-0.575px;">1.33%</div>
<div class="t" style="left:846.40px;top:106.00px;font-size:15px;color:#a8a8a8">250<span class="c">日</span></div>
<div class="t red" style="left:956.00px;top:106.00px;font-size:15px;letter-spacing:-0.400px;">61.12%</div>
<div class="t" style="left:681.90px;top:127.00px;font-size:15px;letter-spacing:-0.300px;color:#a8a8a8">20<span class="c">日</span></div>
<div class="t red" style="left:797.80px;top:127.00px;font-size:15px;letter-spacing:-0.750px;">9.68%</div>
<div class="t" style="left:846.40px;top:127.00px;font-size:15px;color:#a8a8a8">52<span class="c">周高</span></div>
<div class="t" style="left:976.00px;top:127.00px;font-size:15px;">1.12</div>
<div class="t" style="left:681.90px;top:147.00px;font-size:15px;letter-spacing:-0.300px;color:#a8a8a8">60<span class="c">日</span></div>
<div class="t red" style="left:789.50px;top:147.00px;font-size:15px;letter-spacing:-0.540px;">20.61%</div>
<div class="t" style="left:846.40px;top:147.00px;font-size:15px;color:#a8a8a8">52<span class="c">周低</span></div>
<div class="t" style="left:977.00px;top:147.00px;font-size:15px;letter-spacing:-0.333px;">0.64</div>
<div class="t b" style="left:680.90px;top:168.00px;font-size:15px;letter-spacing:0.100px;color:#dcdcdc"><span class="c">实时申购赎回信息</span></div>
<div class="t gry" style="left:863.50px;top:168.00px;font-size:15px;letter-spacing:0.500px;"><span class="c">申购</span></div>
<div class="t gry" style="left:977.50px;top:168.00px;font-size:15px;letter-spacing:-0.500px;"><span class="c">赎回</span></div>
<div class="t" style="left:681.90px;top:190.00px;font-size:15px;letter-spacing:-1.500px;color:#a8a8a8"><span class="c">笔数</span></div>
<div class="t" style="left:884.00px;top:190.00px;font-size:15px;">3</div>
<div class="t" style="left:997.00px;top:190.00px;font-size:15px;">0</div>
<div class="t" style="left:681.90px;top:212.00px;font-size:15px;letter-spacing:-0.500px;color:#a8a8a8"><span class="c">金额</span></div>
<div class="t" style="left:884.00px;top:212.00px;font-size:15px;">0</div>
<div class="t" style="left:997.00px;top:212.00px;font-size:15px;">0</div>
<div class="t" style="left:681.90px;top:234.00px;font-size:15px;letter-spacing:-0.500px;color:#a8a8a8"><span class="c">份额</span></div>
<div class="t" style="left:853.00px;top:234.00px;font-size:15px;">400<span class="c">万</span></div>
<div class="t" style="left:997.00px;top:234.00px;font-size:15px;">0</div>
<div class="t b" style="left:677.20px;top:256.00px;font-size:15px;letter-spacing:0.033px;color:#e2e2e2"><span class="c">申赎清单</span></div>
<div class="t" style="left:986.40px;top:256.00px;font-size:15px;letter-spacing:-2.000px;color:#c0c0c0">···</div>
<div class="t" style="left:681.90px;top:277.00px;font-size:15px;letter-spacing:0.043px;color:#a8a8a8"><span class="c">最小申赎单位份额</span></div>
<div class="t" style="left:939.00px;top:277.00px;font-size:15px;letter-spacing:-0.125px;">1,000,000</div>
<div class="t" style="left:681.90px;top:299.00px;font-size:15px;letter-spacing:0.043px;color:#a8a8a8"><span class="c">现金替代比例上限</span></div>
<div class="t" style="left:976.00px;top:299.00px;font-size:15px;letter-spacing:-0.500px;">50%</div>
<div class="t" style="left:680.90px;top:322.00px;font-size:15px;letter-spacing:0.043px;color:#a8a8a8"><span class="c">申购赎回允许情况</span></div>
<div class="t" style="left:904.00px;top:322.00px;font-size:15px;letter-spacing:0.167px;"><span class="c">申购赎回皆允许</span></div>
<div class="t" style="left:681.90px;top:343.00px;font-size:15px;color:#a8a8a8">T<span class="c">日预估现金差额</span></div>
<div class="t" style="left:927.50px;top:343.00px;font-size:15px;letter-spacing:0.062px;">13284.26<span class="c">元</span></div>
<div class="t" style="left:681.90px;top:365.00px;font-size:15px;letter-spacing:0.222px;color:#a8a8a8">T-1<span class="c">日单位申赎资产</span></div>
<div class="t" style="left:911.00px;top:365.00px;font-size:15px;letter-spacing:0.100px;">1071584.26<span class="c">元</span></div>
<div class="t b" style="left:678.20px;top:386.00px;font-size:15px;letter-spacing:-0.360px;color:#e2e2e2"><span class="c">近</span>5<span class="c">日净流入</span></div>
<div class="t b" style="left:934.60px;top:386.00px;font-size:15px;color:#e2e2e2"><span class="c">单位</span>(<span class="c">万元</span>)</div>
<div class="t red" style="left:967.50px;top:421.00px;">322</div>
<div class="t" style="left:703.30px;top:558.00px;color:#1fae4e">0</div>
<div class="t" style="left:771.30px;top:558.00px;color:#1fae4e">0</div>
<div class="t" style="left:839.30px;top:558.00px;color:#1fae4e">0</div>
<div class="t" style="left:907.30px;top:558.00px;color:#1fae4e">0</div>
<div class="t" style="left:696.00px;top:583.00px;letter-spacing:1.000px;color:#c4c4c4">9-3</div>
<div class="t" style="left:764.00px;top:583.00px;letter-spacing:1.000px;color:#c4c4c4">9-4</div>
<div class="t" style="left:832.00px;top:583.00px;letter-spacing:1.000px;color:#c4c4c4">9-5</div>
<div class="t" style="left:900.00px;top:583.00px;letter-spacing:1.000px;color:#c4c4c4">9-8</div>
<div class="t" style="left:968.00px;top:583.00px;letter-spacing:1.000px;color:#c4c4c4">9-9</div>
<div class="t gry" style="left:682.30px;top:611.00px;font-size:15px;letter-spacing:0.200px;"><span class="c">天数</span></div>
<div class="t gry" style="left:810.90px;top:611.00px;font-size:15px;"><span class="c">净流天</span></div>
<div class="t gry" style="left:885.30px;top:611.00px;font-size:15px;"><span class="c">净流额</span></div>
<div class="t gry" style="left:960.30px;top:611.00px;font-size:15px;"><span class="c">净流率</span></div>
<div class="t" style="left:693.00px;top:633.00px;font-size:15px;color:#c4c4c4">5</div>
<div class="t red" style="left:844.00px;top:633.00px;font-size:15px;">1</div>
<div class="t red" style="left:904.30px;top:633.00px;font-size:15px;letter-spacing:-0.500px;">322</div>
<div class="t red" style="left:962.30px;top:633.00px;font-size:15px;letter-spacing:-0.500px;">8.33%</div>
</div>
</body></html>
